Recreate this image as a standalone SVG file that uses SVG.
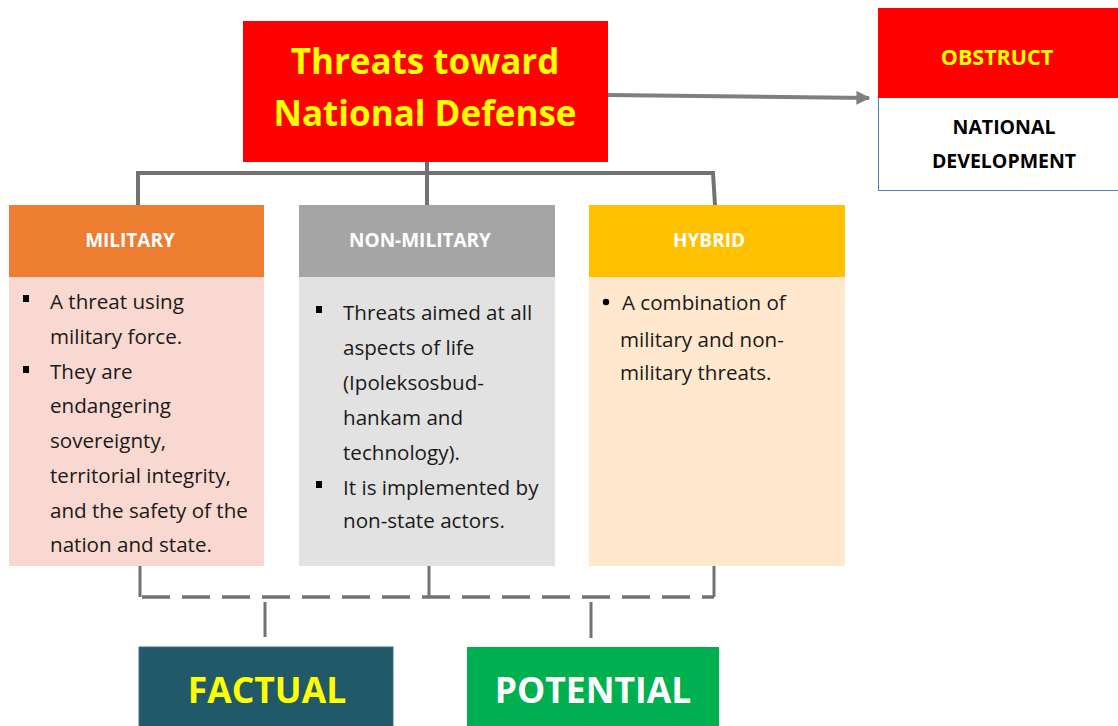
<svg xmlns="http://www.w3.org/2000/svg" width="1118" height="726" viewBox="0 0 1118 726">
<defs>
<marker id="arr" viewBox="0 0 10 10" refX="9" refY="5" markerWidth="3.5" markerHeight="3.5" orient="auto" markerUnits="strokeWidth">
<path d="M0,0 L10,5 L0,10 z" fill="#7F7F7F"/>
</marker>
<style>
text{font-family:"Open Sans","Noto Sans","Liberation Sans",sans-serif;}
.title{font-size:35px;font-weight:bold;fill:#FFFF00;text-anchor:middle;}
.hdr{font-size:19px;font-weight:bold;fill:#FFFFFF;text-anchor:middle;}
.body{font-size:20.6px;fill:#1A1A1A;}
.big{font-size:35.5px;font-weight:bold;text-anchor:middle;}
.conn{fill:none;stroke:#767171;stroke-width:4;}
.dash{fill:none;stroke:#767171;stroke-width:3.5;stroke-dasharray:28 12;}
.thin{fill:none;stroke:#767171;stroke-width:3;}
</style>
</defs>
<rect width="1118" height="726" fill="#FFFFFF"/>

<g id="connectors">
<path class="conn" d="M427,162 V173 M138,205 V173 H713 L715,205 M427,173 V205"/>
<path d="M608,95 L869,98" stroke="#7F7F7F" stroke-width="4" fill="none" marker-end="url(#arr)"/>
<path class="thin" d="M140,566 V597 M429,566 V597 M714,566 V597"/>
<path class="dash" d="M142,597 H714"/>
<path class="thin" d="M265,602 V637 M591,602 V638"/>
</g>

<g id="title">
<rect x="243" y="21" width="365" height="141" fill="#FF0000"/>
<text class="title" x="425" y="74">Threats toward</text>
<text class="title" x="425" y="126">National Defense</text>
</g>

<g id="obstruct">
<rect x="878.5" y="8.5" width="250" height="182" fill="#FFFFFF" stroke="#4F81BD" stroke-width="1"/>
<rect x="878" y="8" width="240" height="90" fill="#FF0000"/>
<text x="997" y="65" font-size="21.5" font-weight="bold" fill="#FFFF00" text-anchor="middle">OBSTRUCT</text>
<text x="1004" y="134" font-size="19.5" font-weight="bold" fill="#000000" text-anchor="middle">NATIONAL</text>
<text x="1004" y="168" font-size="19.5" font-weight="bold" fill="#000000" text-anchor="middle">DEVELOPMENT</text>
</g>

<g id="military">
<rect x="9" y="205" width="255" height="72" fill="#ED7D31"/>
<rect x="9" y="277" width="255" height="289" fill="#F8D8D0"/>
<text class="hdr" x="130" y="247">MILITARY</text>
<rect x="23" y="295" width="6" height="7" fill="#000000"/>
<rect x="23" y="366" width="6" height="7" fill="#000000"/>
<text class="body" x="50" y="309">A threat using</text>
<text class="body" x="50" y="344">military force.</text>
<text class="body" x="50" y="379">They are</text>
<text class="body" x="50" y="413">endangering</text>
<text class="body" x="50" y="448">sovereignty,</text>
<text class="body" x="50" y="483">territorial integrity,</text>
<text class="body" x="50" y="518">and the safety of the</text>
<text class="body" x="50" y="552">nation and state.</text>
</g>

<g id="non-military">
<rect x="299" y="205" width="256" height="72" fill="#A5A5A5"/>
<rect x="299" y="277" width="256" height="289" fill="#E2E2E2"/>
<text class="hdr" x="420" y="247">NON-MILITARY</text>
<rect x="316" y="306" width="6" height="7" fill="#000000"/>
<rect x="316" y="481" width="6" height="7" fill="#000000"/>
<text class="body" x="343" y="320">Threats aimed at all</text>
<text class="body" x="343" y="355">aspects of life</text>
<text class="body" x="343" y="390">(Ipoleksosbud-</text>
<text class="body" x="343" y="425">hankam and</text>
<text class="body" x="343" y="460">technology).</text>
<text class="body" x="343" y="495">It is implemented by</text>
<text class="body" x="343" y="528">non-state actors.</text>
</g>

<g id="hybrid">
<rect x="589" y="205" width="256" height="72" fill="#FFC000"/>
<rect x="589" y="277" width="256" height="289" fill="#FFE8CE"/>
<text class="hdr" x="709" y="247">HYBRID</text>
<circle cx="606" cy="302" r="3.2" fill="#000000"/>
<text class="body" x="622" y="310">A combination of</text>
<text class="body" x="620" y="347">military and non-</text>
<text class="body" x="620" y="380">military threats.</text>
</g>

<g id="factual">
<rect x="139" y="647" width="254" height="85" fill="#215968" stroke="#3A6EA5" stroke-width="1"/>
<text class="big" x="267" y="703" fill="#FFFF00">FACTUAL</text>
</g>

<g id="potential">
<rect x="467" y="647" width="252" height="85" fill="#00B050"/>
<text class="big" x="593" y="703" fill="#FFFFFF">POTENTIAL</text>
</g>
</svg>
